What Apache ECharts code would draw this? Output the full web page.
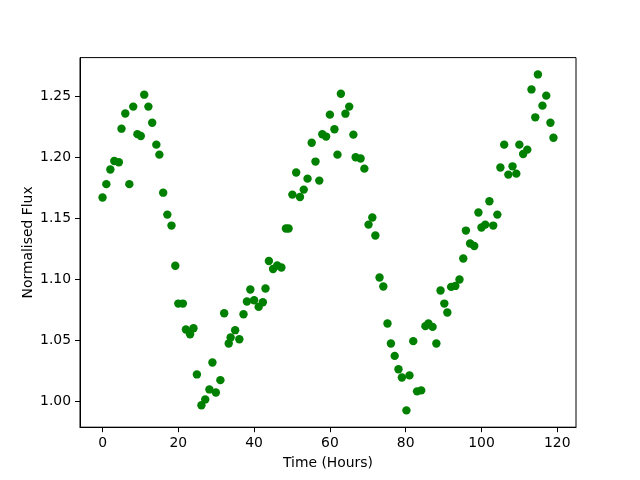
<!DOCTYPE html>
<html>
<head>
<meta charset="utf-8">
<script src="https://cdn.jsdelivr.net/npm/echarts@6.0.0/dist/echarts.min.js"></script>
<style>
  html, body { margin: 0; padding: 0; background: #fff; }
  #chart { width: 640px; height: 480px; }
</style>
</head>
<body>
<div id="chart"></div>
<script>
var hours = [
    0, 1, 2.06, 3.1, 4.3, 5, 6, 7.07, 8.1, 9.2,
    10.1, 11, 12.1, 13.1, 14.2, 15, 16, 17.1, 18.2, 19.2,
    20, 21.2, 22, 23.1, 24, 24.9, 26.1, 27.1, 28.2, 29,
    29.9, 31.1, 32.1, 33.3, 33.8, 35, 36.1, 37.2, 38.1, 39,
    40, 41.2, 42.3, 43, 43.9, 45, 46.1, 47.2, 48.4, 49.1,
    50.1, 51.1, 52.1, 53.1, 54.1, 55.2, 56.2, 57.2, 58, 59,
    60, 61.2, 62, 62.9, 64.1, 65.1, 66.2, 66.8, 68.1, 69.1,
    70.2, 71.2, 72, 73.1, 74.1, 75.2, 76.1, 77.1, 78.1, 79,
    80.2, 81, 82, 83, 84.1, 85.2, 86, 87.1, 88.1, 89.2,
    90.2, 91, 92, 93.1, 94.2, 95.2, 95.9, 97, 98.1, 99.2,
    100, 101, 102.1, 103.1, 104.2, 105, 106, 107.1, 108.2, 109.2,
    110, 111, 112.1, 113.2, 114.2, 114.9, 116.1, 117.1, 118.2, 119
];
var flux = [
    1.167, 1.178, 1.190, 1.197, 1.196, 1.2235, 1.236, 1.178, 1.2416, 1.219,
    1.2175, 1.2514, 1.2416, 1.2284, 1.2104, 1.2022, 1.171, 1.153, 1.144, 1.111,
    1.080, 1.080, 1.0588, 1.0549, 1.0598, 1.0219, 0.9966, 1.0014, 1.0096, 1.0317,
    1.0071, 1.0172, 1.0721, 1.0473, 1.0522, 1.0582, 1.0508, 1.0713, 1.0817, 1.0916,
    1.0828, 1.0773, 1.0811, 1.0924, 1.1150, 1.1084, 1.1112, 1.1096, 1.1416, 1.1416,
    1.1694, 1.1875, 1.1675, 1.1735, 1.1825, 1.212, 1.1965, 1.1809, 1.2189, 1.217,
    1.235, 1.223, 1.2022, 1.2522, 1.2358, 1.2416, 1.2186, 1.200, 1.199, 1.1907,
    1.1448, 1.1506, 1.1358, 1.1014, 1.094, 1.0637, 1.0473, 1.0371, 1.0262, 1.0194,
    0.9924, 1.0211, 1.0492, 1.008, 1.0088, 1.0615, 1.0637, 1.0609, 1.0473, 1.0907,
    1.080, 1.0727, 1.0937, 1.0945, 1.0998, 1.117, 1.1399, 1.1293, 1.1273, 1.1547,
    1.1424, 1.1448, 1.1639, 1.144, 1.153, 1.1916, 1.2104, 1.1858, 1.1926, 1.1866,
    1.2104, 1.2027, 1.2063, 1.2557, 1.2328, 1.268, 1.2424, 1.2506, 1.2284, 1.2161
];
var xTicks = [0, 20, 40, 60, 80, 100, 120];
var yTicks = [1.00, 1.05, 1.10, 1.15, 1.20, 1.25];

var points = [];
for (var i = 0; i < hours.length; i++) {
    points.push([hours[i], flux[i]]);
}

var myChart = echarts.init(document.getElementById('chart'), null, { renderer: 'canvas' });

var font = 'DejaVu Sans';
var option = {
    animation: false,
    backgroundColor: '#fff',
    textStyle: { fontFamily: font },
    grid: {
        left: 80, right: 64, top: 57.6, bottom: 52.8,
        show: true, borderColor: '#000', borderWidth: 1, backgroundColor: 'transparent'
    },
    xAxis: {
        type: 'value',
        min: -5.95,
        max: 124.95,
        name: 'Time (Hours)',
        nameLocation: 'middle',
        nameGap: 29,
        nameMoveOverlap: false,
        nameTextStyle: { color: '#000', fontSize: 13.9, fontFamily: font },
        axisLine: { show: true, onZero: false, lineStyle: { color: '#000', width: 1 } },
        axisTick: { show: true, inside: false, length: 5, lineStyle: { color: '#000' }, customValues: xTicks },
        axisLabel: { color: '#000', fontSize: 13.9, margin: 9, fontFamily: font, customValues: xTicks },
        splitLine: { show: false }
    },
    yAxis: {
        type: 'value',
        min: 0.9786,
        max: 1.2818,
        name: 'Normalised Flux',
        nameLocation: 'middle',
        nameRotate: 90,
        nameGap: 45,
        nameMoveOverlap: false,
        nameTextStyle: { color: '#000', fontSize: 13.9, fontFamily: font },
        axisLine: { show: true, onZero: false, lineStyle: { color: '#000', width: 1 } },
        axisTick: { show: true, inside: false, length: 5, lineStyle: { color: '#000' }, customValues: yTicks },
        axisLabel: {
            color: '#000', fontSize: 13.9, margin: 9, fontFamily: font, customValues: yTicks,
            formatter: function (v) { return v.toFixed(2); }
        },
        splitLine: { show: false }
    },
    series: [{
        type: 'scatter',
        data: points,
        symbol: 'circle',
        symbolSize: 8.4,
        itemStyle: { color: '#008000', opacity: 1 }
    }]
};

myChart.setOption(option);
</script>
</body>
</html>
